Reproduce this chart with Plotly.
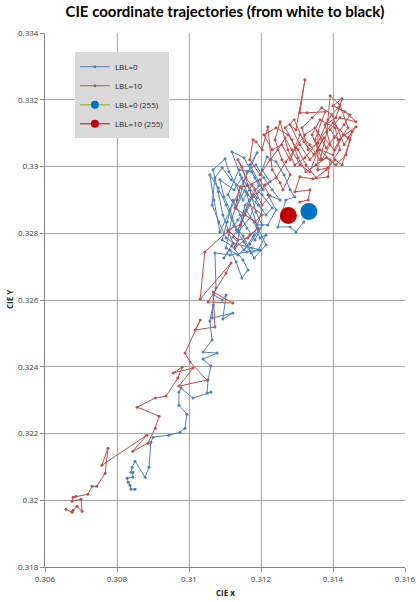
import plotly.graph_objects as go

# CIE trajectories, white (255) -> black
lbl0_x = [0.31319, 0.31297, 0.31281, 0.31247, 0.31269, 0.31294, 0.31281, 0.31264, 0.31242, 0.31217,
          0.31203, 0.31225,
          0.31156, 0.31136, 0.31169, 0.31189, 0.31161, 0.31131, 0.31108, 0.31139, 0.31175, 0.31194,
          0.31167, 0.31144, 0.31122, 0.31153, 0.31181, 0.31203, 0.31178, 0.31153, 0.31131, 0.31103,
          0.31083, 0.31064, 0.31072, 0.31092, 0.31117, 0.31158, 0.31189, 0.31219, 0.31242, 0.31219,
          0.31253, 0.31231, 0.31208, 0.31186, 0.31161, 0.31142, 0.31119, 0.31103, 0.31136, 0.31169,
          0.31194, 0.31214, 0.31181, 0.31150, 0.31125, 0.31103, 0.31081, 0.31058, 0.31069, 0.31086,
          0.31189, 0.31169, 0.31206, 0.31183, 0.31153, 0.31119, 0.31142, 0.31164,
          0.31192, 0.31214, 0.31231, 0.31203, 0.31175, 0.31150, 0.31131, 0.31111, 0.31100, 0.31067,
          0.31081, 0.31094, 0.31111, 0.31136, 0.31158, 0.31181, 0.31197, 0.31214, 0.31192, 0.31172,
          0.31153, 0.31131, 0.31114, 0.31097, 0.31086, 0.31125, 0.31147, 0.31169, 0.31186, 0.31203,
          0.31183, 0.31161, 0.31142, 0.31122, 0.31106, 0.31092, 0.31119, 0.31150, 0.31164, 0.31147,
          0.31131, 0.31114, 0.31097, 0.31122, 0.31175, 0.31197, 0.31161, 0.31114, 0.31072, 0.31075,
          0.31069, 0.31092, 0.31103, 0.31094, 0.31122, 0.31064, 0.31067, 0.31058, 0.31064, 0.31039,
          0.31078, 0.31039, 0.31061, 0.31053, 0.31050, 0.31061, 0.31011, 0.30978, 0.30972, 0.30972,
          0.30994, 0.30989, 0.30975, 0.30944, 0.30900, 0.30894, 0.30889, 0.30878, 0.30850, 0.30842,
          0.30839, 0.30844, 0.30844, 0.30828, 0.30831, 0.30836, 0.30839, 0.30850]
lbl0_y = [0.32834, 0.32804, 0.32819, 0.32819, 0.32900, 0.32909, 0.32930, 0.32975, 0.33014, 0.33029,
          0.32990, 0.32954,
          0.32885, 0.32804, 0.32846, 0.32906, 0.32945, 0.32876, 0.32915, 0.32990, 0.32984, 0.32942,
          0.32900, 0.32825, 0.32789, 0.32750, 0.32795, 0.32870, 0.32915, 0.32855, 0.32765, 0.32786,
          0.32834, 0.32885, 0.32966, 0.32996, 0.32960, 0.32924, 0.32825, 0.32825, 0.32870, 0.32915,
          0.32900, 0.32930, 0.32966, 0.33005, 0.32984, 0.32912, 0.32846, 0.32756, 0.32735, 0.32768,
          0.32810, 0.32765, 0.32726, 0.32792, 0.32825, 0.32885, 0.32936, 0.32975, 0.32900, 0.32804,
          0.33041, 0.33005, 0.32930, 0.32966, 0.33026, 0.33044, 0.32975, 0.32915,
          0.32885, 0.32855, 0.32876, 0.32915, 0.32945, 0.32900, 0.32945, 0.32984, 0.33023, 0.32990,
          0.32924, 0.32855, 0.32804, 0.32840, 0.32870, 0.32834, 0.32786, 0.32795, 0.32750, 0.32741,
          0.32774, 0.32810, 0.32870, 0.32909, 0.32960, 0.32930, 0.32966, 0.32930, 0.32864, 0.32825,
          0.32780, 0.32816, 0.32855, 0.32900, 0.32834, 0.32780, 0.32762, 0.32720, 0.32690, 0.32666,
          0.32714, 0.32750, 0.32726, 0.32771, 0.32756, 0.32750, 0.32744, 0.32735, 0.32741, 0.32636,
          0.32615, 0.32600, 0.32615, 0.32543, 0.32561, 0.32546, 0.32585, 0.32537, 0.32480, 0.32444,
          0.32441, 0.32423, 0.32402, 0.32360, 0.32321, 0.32324, 0.32306, 0.32336, 0.32324, 0.32285,
          0.32258, 0.32216, 0.32204, 0.32195, 0.32189, 0.32174, 0.32099, 0.32069, 0.32117, 0.32099,
          0.32084, 0.32084, 0.32069, 0.32066, 0.32054, 0.32045, 0.32033, 0.32033]

lbl10_x = [0.31308, 0.31331, 0.31336, 0.31294, 0.31308, 0.31344, 0.31386, 0.31392, 0.31364, 0.31400,
           0.31428, 0.31442, 0.31464, 0.31414, 0.31392, 0.31419, 0.31464, 0.31433, 0.31400, 0.31425,
           0.31408, 0.31378, 0.31392, 0.31369, 0.31350, 0.31378, 0.31328, 0.31308, 0.31322, 0.31297,
           0.31281, 0.31308, 0.31336, 0.31358, 0.31342, 0.31364, 0.31406, 0.31419, 0.31386, 0.31358,
           0.31358, 0.31381, 0.31403, 0.31431, 0.31447, 0.31414, 0.31386, 0.31358, 0.31331, 0.31314,
           0.31342, 0.31369, 0.31397, 0.31431, 0.31453, 0.31436, 0.31408, 0.31381, 0.31353, 0.31325,
           0.31303, 0.31286, 0.31267, 0.31292, 0.31319, 0.31347, 0.31375, 0.31403, 0.31419, 0.31442,
           0.31419, 0.31392, 0.31383, 0.31364, 0.31336, 0.31308, 0.31281, 0.31258, 0.31231, 0.31208,
           0.31242, 0.31275, 0.31303, 0.31325, 0.31353, 0.31381, 0.31406, 0.31425, 0.31447, 0.31400,
           0.31322, 0.31294, 0.31275, 0.31253, 0.31239, 0.31258, 0.31281, 0.31261, 0.31253, 0.31231,
           0.31219, 0.31203, 0.31186, 0.31178, 0.31169, 0.31197, 0.31225, 0.31247, 0.31267, 0.31286,
           0.31308, 0.31336, 0.31369, 0.31350, 0.31322, 0.31297, 0.31269, 0.31242, 0.31211, 0.31175,
           0.31147, 0.31136, 0.31158, 0.31183, 0.31203, 0.31225, 0.31197, 0.31164, 0.31142, 0.31133,
           0.31128, 0.31156, 0.31183, 0.31203, 0.31169, 0.31142, 0.31108, 0.31136, 0.31164, 0.31192,
           0.31169, 0.31128, 0.31108, 0.31044, 0.31031, 0.31117, 0.31103, 0.31053, 0.31122, 0.31067,
           0.31072, 0.31017, 0.31031, 0.30989, 0.31003, 0.31050, 0.30972, 0.31011, 0.30956, 0.30981,
           0.30969, 0.30936, 0.30906, 0.30856, 0.30917, 0.30906, 0.30886, 0.30844, 0.30883, 0.30758,
           0.30775, 0.30767, 0.30744, 0.30731, 0.30719, 0.30686, 0.30678, 0.30675, 0.30700, 0.30703,
           0.30689, 0.30678, 0.30675, 0.30658]
lbl10_y = [0.32894, 0.32900, 0.32930, 0.32924, 0.32969, 0.32963, 0.32969, 0.33020, 0.33050, 0.33035,
           0.33095, 0.33086, 0.33119, 0.33080, 0.33110, 0.33146, 0.33134, 0.33164, 0.33182, 0.33203,
           0.33146, 0.33125, 0.33065, 0.33020, 0.33080, 0.33164, 0.33161, 0.33161, 0.33260, 0.33110,
           0.33125, 0.33065, 0.33020, 0.33050, 0.33095, 0.33140, 0.33116, 0.33050, 0.32996, 0.32990,
           0.33104, 0.33056, 0.33086, 0.33125, 0.33155, 0.33176, 0.33140, 0.33071, 0.33050, 0.33116,
           0.33146, 0.33176, 0.33155, 0.33065, 0.33104, 0.33035, 0.33005, 0.33026, 0.33005, 0.32984,
           0.33026, 0.33080, 0.33116, 0.33140, 0.33074, 0.33035, 0.33086, 0.33050, 0.33080, 0.33116,
           0.33185, 0.33212, 0.33104, 0.33020, 0.33065, 0.33095, 0.33020, 0.33065, 0.33050, 0.33095,
           0.33116, 0.33095, 0.33050, 0.33005, 0.32966, 0.32990, 0.33020, 0.33005, 0.33080, 0.33131,
           0.33026, 0.33005, 0.33050, 0.33134, 0.33080, 0.33020, 0.32975, 0.32930, 0.32951, 0.32990,
           0.33119, 0.33050, 0.33074, 0.33080, 0.33020, 0.32975, 0.33020, 0.33050, 0.33086, 0.33050,
           0.33005, 0.32984, 0.33080, 0.33116, 0.33095, 0.33056, 0.33014, 0.32966, 0.32945, 0.32909,
           0.32999, 0.33020, 0.32966, 0.32930, 0.32885, 0.32912, 0.32960, 0.32942, 0.32939, 0.32900,
           0.32876, 0.32855, 0.32834, 0.32855, 0.32885, 0.32825, 0.32810, 0.32780, 0.32786, 0.32816,
           0.32795, 0.32756, 0.32807, 0.32744, 0.32603, 0.32711, 0.32681, 0.32594, 0.32591, 0.32624,
           0.32519, 0.32510, 0.32540, 0.32441, 0.32414, 0.32360, 0.32342, 0.32396, 0.32381, 0.32399,
           0.32366, 0.32312, 0.32306, 0.32279, 0.32252, 0.32216, 0.32171, 0.32147, 0.32195, 0.32105,
           0.32156, 0.32081, 0.32042, 0.32042, 0.32018, 0.32012, 0.32009, 0.31997, 0.32003, 0.31967,
           0.31982, 0.31970, 0.31964, 0.31973]

# level 255 points
lbl0_255 = (0.31333, 0.32865)
lbl10_255 = (0.31276, 0.32853)

x_ticks = [0.306, 0.308, 0.31, 0.312, 0.314, 0.316]
x_ticktext = ['0.306', '0.308', '0.31', '0.312', '0.314', '0.316']
y_ticks = [0.318, 0.32, 0.322, 0.324, 0.326, 0.328, 0.33, 0.332, 0.334]
y_ticktext = ['0.318', '0.32', '0.322', '0.324', '0.326', '0.328', '0.33', '0.332', '0.334']

blue = '#4f81bd'
red = '#c0504d'

fig = go.Figure()
fig.add_trace(go.Scatter(x=lbl0_x, y=lbl0_y, name='LBL=0', mode='lines+markers',
                         line=dict(color=blue, width=1), marker=dict(color=blue, size=3)))
fig.add_trace(go.Scatter(x=lbl10_x, y=lbl10_y, name='LBL=10', mode='lines+markers',
                         line=dict(color=red, width=1), marker=dict(color=red, size=3)))
fig.add_trace(go.Scatter(x=[lbl0_255[0]], y=[lbl0_255[1]], name='LBL=0 (255)', mode='markers',
                         marker=dict(color='#0070c0', size=17), showlegend=False))
fig.add_trace(go.Scatter(x=[lbl10_255[0]], y=[lbl10_255[1]], name='LBL=10 (255)', mode='markers',
                         marker=dict(color='#c00000', size=17), showlegend=False))
# legend entries for the 255 points (smaller symbols, as in the original)
fig.add_trace(go.Scatter(x=[None], y=[None], name='LBL=0 (255)', mode='lines+markers',
                         line=dict(color='#9bbb59', width=1.5), marker=dict(color='#0070c0', size=8)))
fig.add_trace(go.Scatter(x=[None], y=[None], name='LBL=10 (255)', mode='lines+markers',
                         line=dict(color=red, width=1.5), marker=dict(color='#c00000', size=8)))

axis_style = dict(showgrid=True, gridcolor='#a6a6a6', gridwidth=1, zeroline=False,
                  showline=True, linecolor='#868686', linewidth=1,
                  ticks='outside', ticklen=4, tickcolor='#868686', automargin=False,
                  tickfont=dict(family='Open Sans', size=8, color='#404040'))

fig.update_xaxes(range=[0.306, 0.316], tickvals=x_ticks, ticktext=x_ticktext, **axis_style)
fig.update_yaxes(range=[0.318, 0.334], tickvals=y_ticks, ticktext=y_ticktext, **axis_style)

# axis titles placed as annotations so the plot area stays fixed
fig.add_annotation(text='<b>CIE x</b>', xref='paper', yref='paper', x=0.5, y=-0.047,
                   xanchor='center', yanchor='middle', showarrow=False,
                   font=dict(family='Open Sans', size=8, color='#262626'))
fig.add_annotation(text='<b>CIE Y</b>', xref='paper', yref='paper', x=-0.1,
                   y=0.5, xanchor='center', yanchor='middle', showarrow=False, textangle=-90,
                   font=dict(family='Open Sans', size=8, color='#262626'))

fig.update_layout(
    width=420, height=602,
    margin=dict(l=45, r=15, t=33, b=35),
    paper_bgcolor='white', plot_bgcolor='white',
    title=dict(text='<b>CIE coordinate trajectories (from white to black)</b>',
               x=0.5, xref='paper', xanchor='center', y=0.98, yanchor='middle',
               font=dict(family='Lato', size=15, color='#000000')),
    legend=dict(x=0.083, y=0.964, xanchor='left', yanchor='top',
                bgcolor='#d9d9d9', font=dict(family='Open Sans', size=8, color='#262626'),
                itemwidth=30, tracegroupgap=0),
    showlegend=True,
)

# page body has a default 8px margin; drop it so the figure fills the window
fig.write_html("out.html", config={'displayModeBar': False},
               post_script="document.body.style.margin='0';")
